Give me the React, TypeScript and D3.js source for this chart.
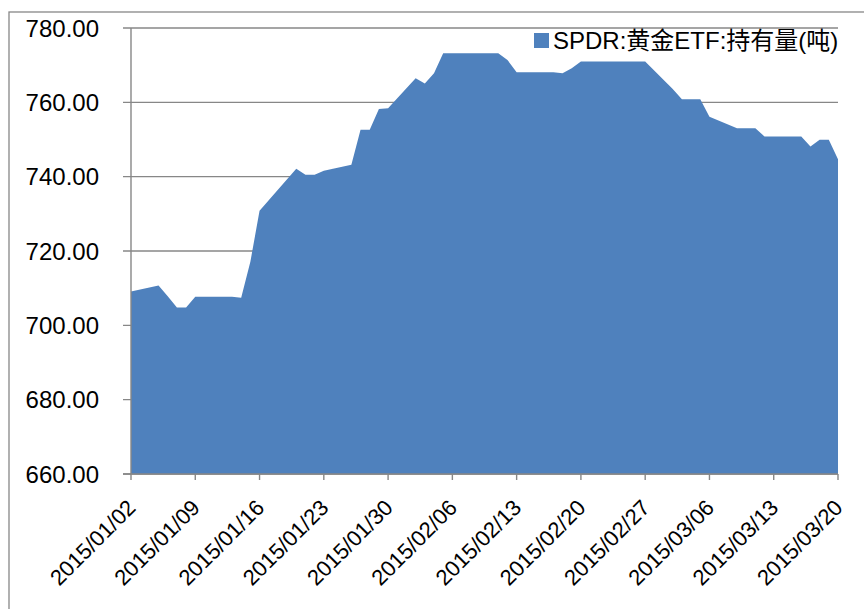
import React from "react";
import * as d3 from "d3";

const dates: string[] = [
  "2015-01-02", "2015-01-05", "2015-01-06", "2015-01-07", "2015-01-08", "2015-01-09",
  "2015-01-12", "2015-01-13", "2015-01-14", "2015-01-15", "2015-01-16",
  "2015-01-20", "2015-01-21", "2015-01-22", "2015-01-23",
  "2015-01-26", "2015-01-27", "2015-01-28", "2015-01-29", "2015-01-30",
  "2015-02-02", "2015-02-03", "2015-02-04", "2015-02-05", "2015-02-06",
  "2015-02-09", "2015-02-10", "2015-02-11", "2015-02-12", "2015-02-13",
  "2015-02-17", "2015-02-18", "2015-02-19", "2015-02-20",
  "2015-02-23", "2015-02-24", "2015-02-25", "2015-02-26", "2015-02-27",
  "2015-03-02", "2015-03-03", "2015-03-04", "2015-03-05", "2015-03-06",
  "2015-03-09", "2015-03-10", "2015-03-11", "2015-03-12", "2015-03-13",
  "2015-03-16", "2015-03-17", "2015-03-18", "2015-03-19", "2015-03-20",
];

const holdings: number[] = [
  709.1, 710.7, 707.8, 704.8, 704.8, 707.7,
  707.7, 707.7, 707.4, 717.1, 730.8,
  742.1, 740.5, 740.5, 741.6,
  743.2, 752.6, 752.6, 758.2, 758.4,
  766.5, 765.1, 767.8, 773.2, 773.2,
  773.2, 773.2, 773.2, 771.4, 768.1,
  768.1, 767.8, 769.2, 771.0,
  771.0, 771.0, 771.0, 771.0, 771.0,
  763.6, 760.8, 760.8, 760.8, 756.1,
  753.0, 753.0, 753.0, 750.8, 750.8,
  750.8, 748.1, 749.9, 749.9, 744.7,
];

const xTickLabels: string[] = [
  "2015/01/02", "2015/01/09", "2015/01/16", "2015/01/23", "2015/01/30", "2015/02/06",
  "2015/02/13", "2015/02/20", "2015/02/27", "2015/03/06", "2015/03/13", "2015/03/20",
];

const yTicks: number[] = [660, 680, 700, 720, 740, 760, 780];

const seriesName = "SPDR:黄金ETF:持有量(吨)";

const W = 864;
const H = 609;
const left = 131;
const right = 838;
const top = 28;
const bottom = 474;
const GRAY = "#878787";
const BLUE = "#4F81BD";
const FONT = "'Liberation Sans', Arial, 'Noto Sans CJK SC', sans-serif";

const parse = d3.timeParse("%Y-%m-%d");
const parseTick = d3.timeParse("%Y/%m/%d");

export default function App() {
  const data = dates.map((d, i) => ({ date: parse(d) as Date, value: holdings[i] }));
  const x = d3
    .scaleTime()
    .domain([parse("2015-01-02") as Date, parse("2015-03-20") as Date])
    .range([left, right]);
  const y = d3.scaleLinear().domain([660, 780]).range([bottom, top]);

  const area = d3
    .area<{ date: Date; value: number }>()
    .x((d) => x(d.date))
    .y0(y(660))
    .y1((d) => y(d.value))
    .curve(d3.curveLinear);

  return (
    <svg
      width={W}
      height={H}
      style={{ position: "absolute", left: 0, top: 0, background: "#fff" }}
      fontFamily={FONT}
    >
      <rect x={9} y={12} width={W} height={H} fill="#fff" stroke={GRAY} strokeWidth={1.3} />
      {/* gridlines */}
      {yTicks.map((t) => (
        <line key={"g" + t} x1={left - 8} x2={right} y1={y(t)} y2={y(t)} stroke={GRAY} strokeWidth={1.4} />
      ))}
      {/* area */}
      <path d={area(data) || ""} fill={BLUE} />
      {/* y axis */}
      <line x1={left} x2={left} y1={top} y2={bottom} stroke={GRAY} strokeWidth={1.4} />
      {yTicks.map((t) => (
        <text
          key={"yl" + t}
          x={99}
          y={y(t) + 8.5}
          textAnchor="end"
          fontSize={24}
          fill="#000"
        >
          {d3.format(".2f")(t)}
        </text>
      ))}
      {/* x axis */}
      <line x1={left - 8} x2={right} y1={bottom} y2={bottom} stroke={GRAY} strokeWidth={1.4} />
      {xTickLabels.map((lbl) => {
        const xv = x(parseTick(lbl) as Date);
        return (
          <g key={lbl}>
            <line x1={xv} x2={xv} y1={bottom} y2={bottom + 6} stroke={GRAY} strokeWidth={1.4} />
            <text
              transform={`translate(${xv + 6},${bottom + 35}) rotate(-45)`}
              textAnchor="end"
              fontSize={22}
              fill="#000"
            >
              {lbl}
            </text>
          </g>
        );
      })}
      {/* legend */}
      <rect x={534} y={33} width={15} height={15} fill={BLUE} />
      <text x={553} y={49} fontSize={24} fill="#000" fontFamily="'Liberation Sans', 'Noto Sans CJK SC', sans-serif">
        {seriesName}
      </text>
    </svg>
  );
}
